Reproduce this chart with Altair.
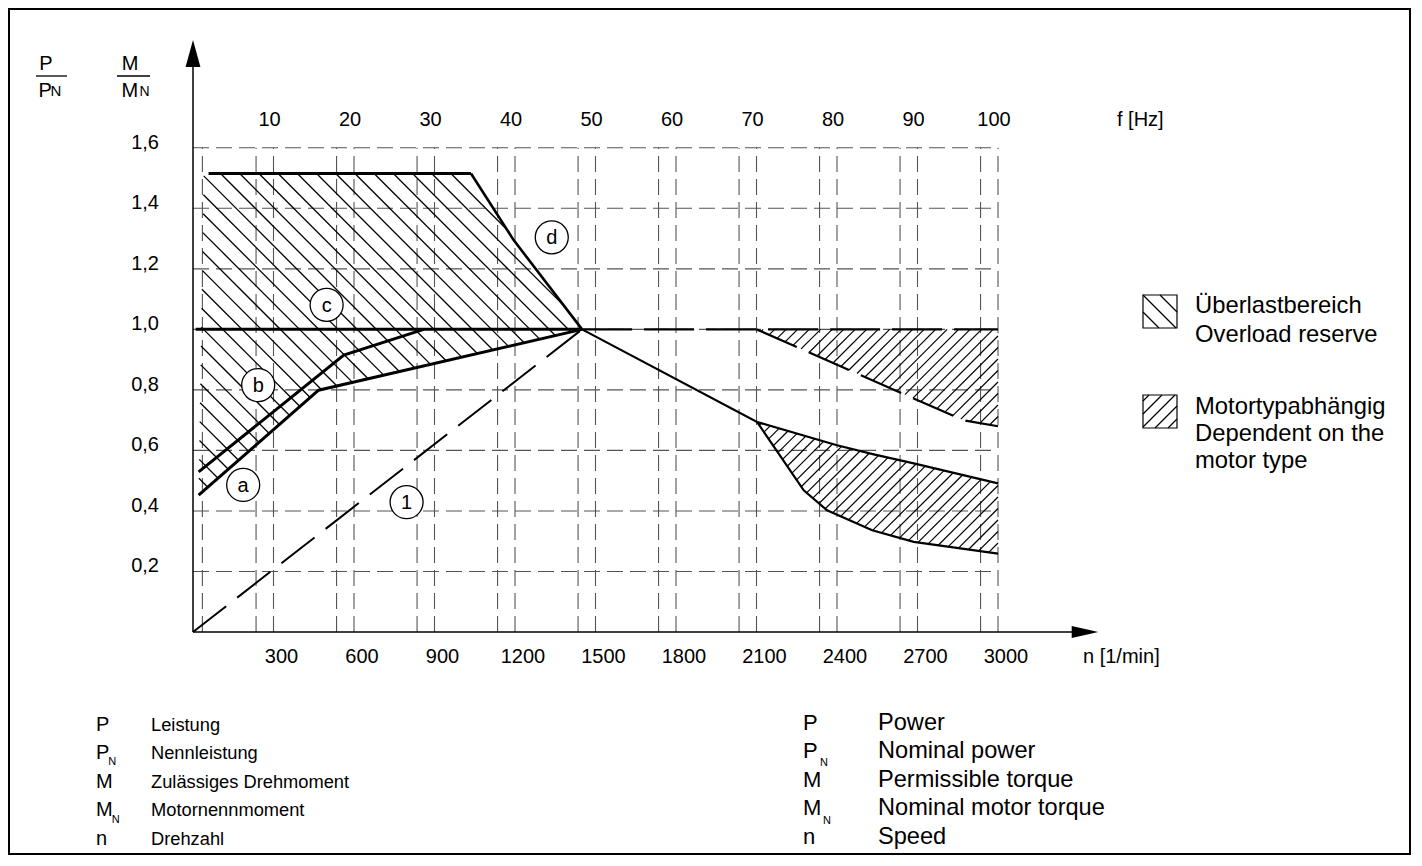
import altair as alt
import numpy as np
import pandas as pd

FONT = "Liberation Sans"

# ---------------- plot geometry ----------------
W, H = 805, 575
N_MAX, V_MAX = 3000, 1.9
KX, KY = W / N_MAX, H / V_MAX
PAD = {"left": 185, "top": 49, "right": 414, "bottom": 224}

# ---------------- axis / grid values ----------------
n_ticks = [300, 600, 900, 1200, 1500, 1800, 2100, 2400, 2700, 3000]
n_labels = ["300", "600", "900", "1200", "1500", "1800", "2100", "2400", "2700", "3000"]
f_ticks = [10, 20, 30, 40, 50, 60, 70, 80, 90, 100]
v_ticks = [0.2, 0.4, 0.6, 0.8, 1.0, 1.2, 1.4, 1.6]
v_labels = ["0,2", "0,4", "0,6", "0,8", "1,0", "1,2", "1,4", "1,6"]
RPM_PER_HZ = 30          # 50 Hz <-> 1500 1/min
F_GRID_SHIFT = -65       # frequency grid is drawn slightly left of the speed grid
N_LEFT = 35              # left border line of the diagram field
GRID_TOP = 1.6

# ---------------- curves (n [1/min], M/MN or P/PN) ----------------
top_n, top_v = [58, 1036], [1.515, 1.515]
d_n, d_v = [1036, 1195, 1450], [1.515, 1.295, 1.0]
a_n, a_v = [21, 468, 1450], [0.452, 0.799, 1.0]
b_n, b_v = [21, 562, 860], [0.529, 0.915, 1.0]
one_n, one_v = [0, 1450], [0.0, 1.0]
nom_n, nom_v = [10, 1450], [1.0, 1.0]
ext_n, ext_v = [1450, 3000], [1.0, 1.0]
cp_n = [1450, 2102, 2400, 2537, 2686, 3000]
cp_v = [1.0, 0.694, 0.617, 0.587, 0.557, 0.491]
low_n = [2102, 2276, 2363, 2531, 2686, 3000]
low_v = [0.694, 0.468, 0.402, 0.336, 0.298, 0.259]
up_n, up_v = [2100, 2870, 3000], [1.0, 0.70, 0.68]

# overload region outline (left edge from (21, 0.452) to (40, 1.515))
ovl_n = [40] + top_n[1:] + d_n[1:] + a_n[::-1][1:]
ovl_v = [1.515] + top_v[1:] + d_v[1:] + a_v[::-1][1:]
# motor-type dependent regions
mlow_n = cp_n[1:] + low_n[::-1][:-1]
mlow_v = cp_v[1:] + low_v[::-1][:-1]
mup_n = [2100, 3000] + up_n[::-1][:-1]
mup_v = [1.0, 1.0] + up_v[::-1][:-1]

# circled markers
mk_lab = ["a", "b", "c", "d", "1"]
mk_n = [187, 243, 498, 1337, 796]
mk_v = [0.486, 0.816, 1.081, 1.304, 0.429]

XS = alt.Scale(domain=[0, N_MAX], nice=False, zero=False)
YS = alt.Scale(domain=[0, V_MAX], nice=False, zero=False)


def to_px(n, v):
    return n * KX, H - v * KY


def to_data(X, Y):
    return X / KX, (H - Y) / KY


def hatch(poly, spacing, kind, phase=0.0):
    P = np.asarray(poly, float)
    sgn = -1.0 if kind == "back" else 1.0
    s = P[:, 0] + sgn * P[:, 1]
    segs = []
    k0 = np.ceil((s.min() - phase) / spacing)
    k1 = np.floor((s.max() - phase) / spacing)
    m = len(P)
    for k in np.arange(k0, k1 + 1):
        c = phase + k * spacing
        pts = []
        for i in range(m):
            A, B = P[i], P[(i + 1) % m]
            fa, fb = s[i] - c, s[(i + 1) % m] - c
            if (fa > 0) != (fb > 0):
                t = fa / (fa - fb)
                pts.append(A + t * (B - A))
        pts.sort(key=lambda p: p[0])
        for j in range(0, len(pts) - 1, 2):
            segs.append((pts[j][0], pts[j][1], pts[j + 1][0], pts[j + 1][1]))
    return segs


def seg_df(segs):
    rows = []
    for X1, Y1, X2, Y2 in segs:
        n1, v1 = to_data(X1, Y1)
        n2, v2 = to_data(X2, Y2)
        rows.append({"n1": n1, "v1": v1, "n2": n2, "v2": v2})
    return pd.DataFrame(rows)


def poly_px(ns, vs):
    return [to_px(n, v) for n, v in zip(ns, vs)]


def seg_layer(df, width=1.2, color="black"):
    return alt.Chart(df).mark_rule(color=color, strokeWidth=width, strokeCap="butt").encode(
        x=alt.X("n1:Q", scale=XS, axis=None),
        y=alt.Y("v1:Q", scale=YS, axis=None),
        x2="n2:Q", y2="v2:Q")


def line_layer(ns, vs, width, dash=None, color="black"):
    df = pd.DataFrame({"n": ns, "v": vs, "i": list(range(len(ns)))})
    kw = dict(color=color, strokeWidth=width, strokeCap="butt", strokeJoin="miter")
    if dash:
        kw["strokeDash"] = dash
    return alt.Chart(df).mark_line(**kw).encode(
        x=alt.X("n:Q", scale=XS, axis=None),
        y=alt.Y("v:Q", scale=YS, axis=None),
        order="i:O")


ONE = pd.DataFrame({"k": [0]})


def txt(s, x, y, size, font=FONT, align="left", lh=None, baseline="alphabetic"):
    kw = dict(text=s, fontSize=size, font=font, align=align, baseline=baseline, color="black")
    if lh:
        kw["lineHeight"] = lh
    return alt.Chart(ONE).mark_text(**kw).encode(x=alt.value(x), y=alt.value(y))


def hrule(x1, x2, y, w=1.3):
    return alt.Chart(ONE).mark_rule(color="black", strokeWidth=w).encode(
        x=alt.value(x1), x2=alt.value(x2), y=alt.value(y))


layers = []

# ---------------- grid ----------------
hgrid = pd.DataFrame({"n1": [0] * len(v_ticks), "n2": [N_MAX] * len(v_ticks), "v": v_ticks})
layers.append(alt.Chart(hgrid).mark_rule(color="#555", strokeWidth=1.1, strokeDash=[16, 7]).encode(
    x=alt.X("n1:Q", scale=XS, axis=None), x2="n2:Q",
    y=alt.Y("v:Q", scale=YS, axis=None)))

vlines = [N_LEFT] + n_ticks + [f * RPM_PER_HZ + F_GRID_SHIFT for f in f_ticks]
vgrid = pd.DataFrame({"n": vlines, "v1": [0] * len(vlines), "v2": [GRID_TOP] * len(vlines)})
layers.append(alt.Chart(vgrid).mark_rule(color="#555", strokeWidth=1.1, strokeDash=[16, 7]).encode(
    x=alt.X("n:Q", scale=XS, axis=None),
    y=alt.Y("v1:Q", scale=YS, axis=None), y2="v2:Q"))

# ---------------- tick labels ----------------
yl = pd.DataFrame({"v": v_ticks, "lab": v_labels})
layers.append(alt.Chart(yl).mark_text(fontSize=20, font=FONT, align="right", baseline="middle",
                                      dy=-5, color="black").encode(
    x=alt.value(-34), y=alt.Y("v:Q", scale=YS, axis=None), text="lab:N"))
xl = pd.DataFrame({"n": n_ticks, "lab": n_labels})
layers.append(alt.Chart(xl).mark_text(fontSize=20, font=FONT, align="center", baseline="alphabetic",
                                      dx=8, color="black").encode(
    x=alt.X("n:Q", scale=XS, axis=None), y=alt.value(H + 31), text="lab:N"))
fl = pd.DataFrame({"n": [f * RPM_PER_HZ for f in f_ticks], "lab": [str(f) for f in f_ticks]})
layers.append(alt.Chart(fl).mark_text(fontSize=20, font=FONT, baseline="alphabetic", dx=-4,
                                      color="black").encode(
    x=alt.X("n:Q", scale=XS, axis=None), y=alt.value(69), text="lab:N"))

# ---------------- hatching ----------------
layers.append(seg_layer(seg_df(hatch(poly_px(ovl_n, ovl_v), 19.2, "back", 7.0)), 1.3))
layers.append(seg_layer(seg_df(hatch(poly_px(mlow_n, mlow_v), 11.5, "fwd", 3.0)), 1.2))
layers.append(seg_layer(seg_df(hatch(poly_px(mup_n, mup_v), 11.5, "fwd", 3.0)), 1.2))

# ---------------- curves ----------------
layers.append(line_layer(one_n, one_v, 2.0, dash=[42, 14]))
layers.append(line_layer(ext_n, ext_v, 2.4, dash=[50, 12]))
layers.append(line_layer(up_n, up_v, 2.2, dash=[44, 13]))
layers.append(line_layer(nom_n, nom_v, 3.0))
layers.append(line_layer(top_n, top_v, 3.0))
layers.append(line_layer(d_n, d_v, 2.6))
layers.append(line_layer(a_n, a_v, 3.0))
layers.append(line_layer(b_n, b_v, 3.0))
layers.append(line_layer(cp_n, cp_v, 2.2))
layers.append(line_layer(low_n, low_v, 2.2))

# ---------------- circled markers ----------------
mk = pd.DataFrame({"n": mk_n, "v": mk_v, "lab": mk_lab})
layers.append(alt.Chart(mk).mark_point(shape="circle", filled=True, fill="white", stroke="black",
                                       strokeWidth=1.3, size=1089, opacity=1).encode(
    x=alt.X("n:Q", scale=XS, axis=None), y=alt.Y("v:Q", scale=YS, axis=None)))
layers.append(alt.Chart(mk).mark_text(fontSize=20, font=FONT, baseline="middle", dy=1,
                                      color="black").encode(
    x=alt.X("n:Q", scale=XS, axis=None), y=alt.Y("v:Q", scale=YS, axis=None), text="lab:N"))

# ---------------- axes lines and arrows ----------------
layers.append(hrule(0, 880, H, 1.5))
layers.append(alt.Chart(ONE).mark_rule(color="black", strokeWidth=1.5).encode(
    x=alt.value(0), y=alt.value(-5), y2=alt.value(H)))
layers.append(alt.Chart(ONE).mark_point(shape="M 0 -1 L 0.55 1 L -0.55 1 Z", filled=True, color="black",
                                        size=729, opacity=1).encode(x=alt.value(0), y=alt.value(-3.5)))
layers.append(alt.Chart(ONE).mark_point(shape="M 1 0 L -1 -0.45 L -1 0.45 Z", filled=True, color="black",
                                        size=707, opacity=1).encode(x=alt.value(892), y=alt.value(H)))

# ---------------- axis titles ----------------
layers.append(txt("P", -147, 13, 20, align="center"))
layers.append(hrule(-157, -126, 19))
layers.append(txt("P", -154.5, 40, 20))
layers.append(txt("N", -142.5, 38.5, 15))
layers.append(txt("M", -63, 13, 20, align="center"))
layers.append(hrule(-76, -43, 19))
layers.append(txt("M", -71.5, 40, 20))
layers.append(txt("N", -53.5, 38.5, 14))
layers.append(txt("f [Hz]", 924, 69, 20))
layers.append(txt("n [1/min]", 890, 606, 20))

# ---------------- legend ----------------
legend_boxes = [(950, 238, 984, 271, "back", 17, 712), (950, 338, 984, 371, "fwd", 13, 1294)]
for x1, y1, x2, y2, kind, sp, ph in legend_boxes:
    layers.append(alt.Chart(ONE).mark_rect(fillOpacity=0, stroke="black", strokeWidth=1.2).encode(
        x=alt.value(x1), x2=alt.value(x2), y=alt.value(y1), y2=alt.value(y2)))
    box = [(x1, y1), (x2, y1), (x2, y2), (x1, y2)]
    layers.append(seg_layer(seg_df(hatch(box, sp, kind, ph)), 1.2))
layers.append(txt(["Überlastbereich", "Overload reserve"], 1002, 256.3, 23.8, lh=28.4))
layers.append(txt(["Motortypabhängig", "Dependent on the", "motor type"], 1002, 357, 23.8, lh=27.2))

# ---------------- symbol list ----------------
sym = ["P", "P", "M", "M", "n"]
de = ["Leistung", "Nennleistung", "Zulässiges Drehmoment", "Motornennmoment", "Drehzahl"]
en = ["Power", "Nominal power", "Permissible torque", "Nominal motor torque", "Speed"]
layers.append(txt(sym, -97, 673.5, 20, lh=28.5))
layers.append(txt("N", -84.7, 708, 11))
layers.append(txt("N", -81.3, 766.3, 11))
layers.append(txt(de, -42, 673.5, 18.3, lh=28.5))
layers.append(txt(sym, 610, 672.5, 22, lh=28.5))
layers.append(txt("N", 627, 709, 11))
layers.append(txt("N", 630, 767, 11))
layers.append(txt(en, 685, 672.5, 23.6, lh=28.5))

# ---------------- frame ----------------
layers.append(alt.Chart(ONE).mark_rect(fillOpacity=0, stroke="black", strokeWidth=2).encode(
    x=alt.value(-184), x2=alt.value(1217), y=alt.value(-48), y2=alt.value(797)))

chart = alt.layer(*layers).properties(
    width=W, height=H, padding=PAD, autosize=alt.AutoSizeParams(type="none")
).configure(background="white").configure_view(stroke=None, strokeWidth=0)

chart.save("out.html", embed_options={"renderer": "svg", "actions": False})
